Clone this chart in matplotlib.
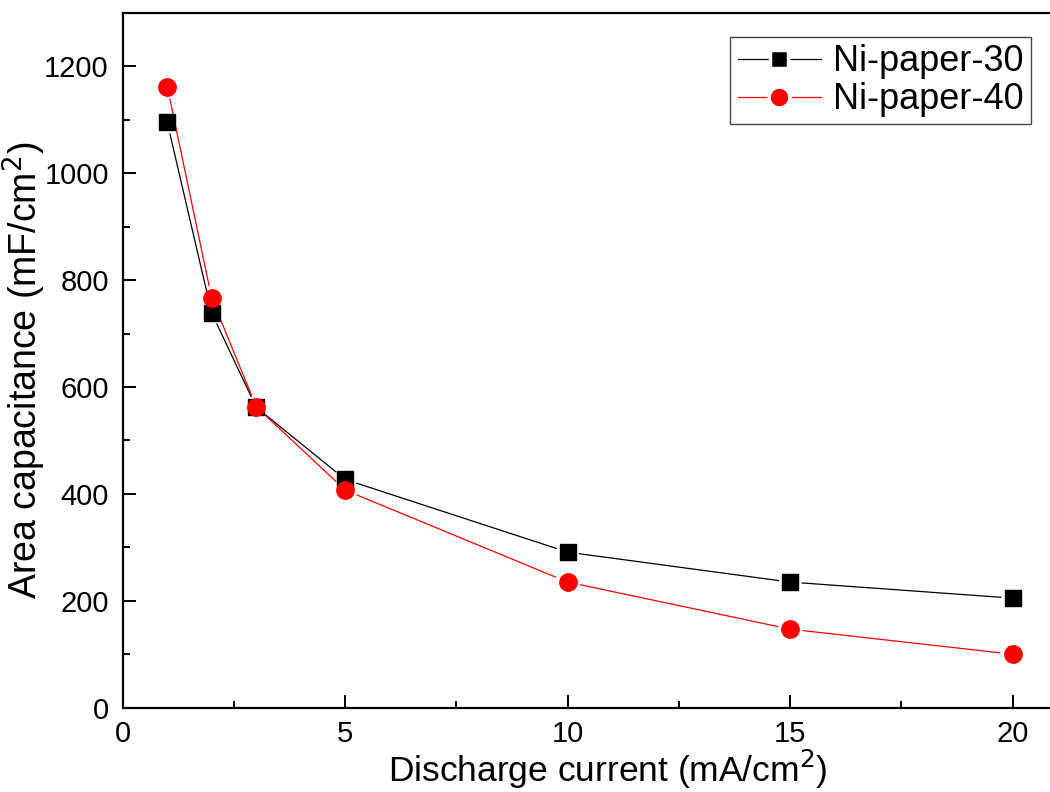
import numpy as np
import matplotlib
matplotlib.use("Agg")
import matplotlib.pyplot as plt
from matplotlib.lines import Line2D
from matplotlib.ticker import MultipleLocator

plt.rcParams["font.family"] = ["Liberation Sans", "DejaVu Sans"]

# Discharge current (mA/cm2) and area capacitance (mF/cm2)
current = [1, 2, 3, 5, 10, 15, 20]
cap_30 = [1095, 738, 562, 427, 291, 235, 205]
cap_40 = [1162, 766, 563, 407, 235, 147, 100]
names = ["Ni-paper-30", "Ni-paper-40"]

fig = plt.figure(figsize=(10.5, 7.92), dpi=100)
ax = fig.add_axes([0.1169, 0.1064, 0.89, 0.8775])
ax.set_xlim(0, 21)
ax.set_ylim(0, 1300)


def gapped_line(x, y, color, gap_px):
    # Origin-style connecting line that stops short of each marker
    pts = ax.transData.transform(np.column_stack([x, y]))
    inv = ax.transData.inverted()
    for p0, p1 in zip(pts[:-1], pts[1:]):
        d = p1 - p0
        n = np.hypot(*d)
        if n <= 2 * gap_px:
            continue
        u = d / n
        a = inv.transform(p0 + u * gap_px)
        b = inv.transform(p1 - u * gap_px)
        ax.plot([a[0], b[0]], [a[1], b[1]], color=color, lw=0.9, zorder=2)


gapped_line(current, cap_30, "black", 12)
gapped_line(current, cap_40, "red", 13)
ax.plot(current, cap_30, ls="none", marker="s", ms=11, color="black", zorder=3)
ax.plot(current, cap_40, ls="none", marker="o", ms=12.5, color="red",
        markeredgecolor="red", zorder=4)

ax.xaxis.set_major_locator(MultipleLocator(5))
ax.xaxis.set_minor_locator(MultipleLocator(2.5))
ax.yaxis.set_major_locator(MultipleLocator(200))
ax.yaxis.set_minor_locator(MultipleLocator(100))
ax.tick_params(which="both", direction="in", top=False, right=False,
               labelsize=21, width=1.4)
ax.tick_params(axis="x", which="major", length=9.5, pad=9)
ax.tick_params(axis="y", which="major", length=9.5, pad=10)
ax.tick_params(which="minor", length=5)
for side in ["left", "bottom", "top", "right"]:
    ax.spines[side].set_linewidth(1.6)

ax.set_xlabel("Discharge current (mA/cm$^2$)", fontsize=25.5, labelpad=0)
ax.set_ylabel("Area capacitance (mF/cm$^2$)", fontsize=27, labelpad=-3)
ax.xaxis.label.set_x(0.519)
ax.yaxis.label.set_y(0.485)

# Legend handles: white-edged markers give the gap in the sample line
handles = [
    Line2D([], [], color="black", lw=0.9, marker="s", ms=13,
           markerfacecolor="black", markeredgecolor="white", markeredgewidth=2.5),
    Line2D([], [], color="red", lw=0.9, marker="o", ms=15,
           markerfacecolor="red", markeredgecolor="white", markeredgewidth=2.5),
]
leg = ax.legend(handles, names, loc="upper right", bbox_to_anchor=(0.972, 0.965),
                fontsize=26, fancybox=False, framealpha=1, edgecolor="#444444",
                handlelength=2.3, handletextpad=0.35, borderpad=0.2,
                labelspacing=0.08, borderaxespad=0)
leg.get_frame().set_linewidth(1.0)

fig.savefig("out.png", dpi=100)
